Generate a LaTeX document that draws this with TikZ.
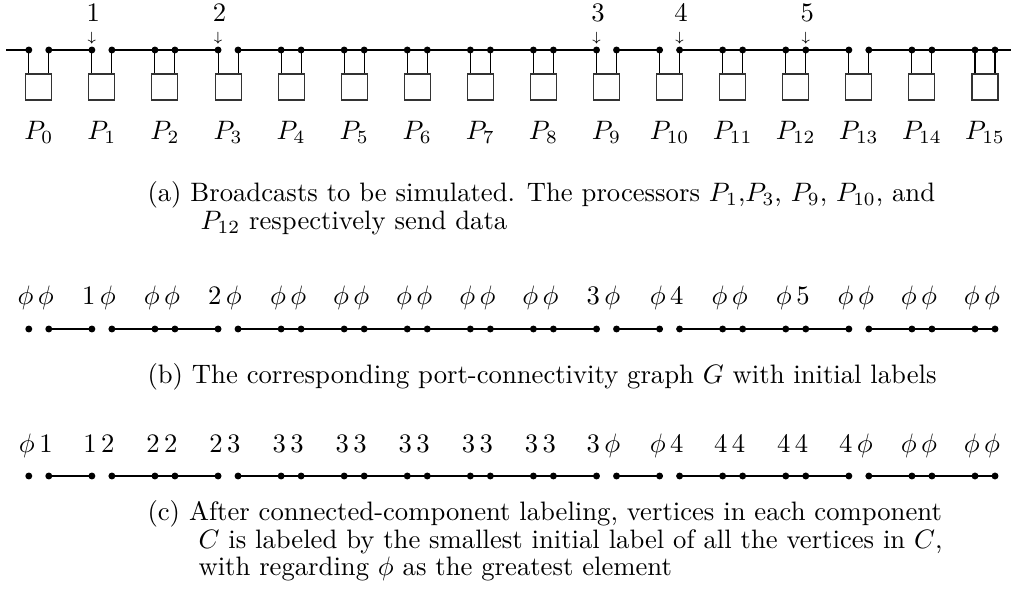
\documentclass[tikz,border=0pt]{standalone}
\usetikzlibrary{calc}
\begin{document}
\begin{tikzpicture}[x=0.375pt,y=-0.375pt,
  dot/.style={circle,fill=black,inner sep=0pt,minimum size=2.6pt},
  bus/.style={line width=0.8pt},
  wire/.style={line width=0.4pt},
  proc/.style={draw=black!80,line width=0.4pt,minimum size=9.75pt,inner sep=0pt},
  gedge/.style={line width=0.4pt},
  lbl/.style={inner sep=0pt,anchor=base},
  captext/.style={inner sep=0pt,anchor=base west}]
\useasboundingbox (0,0) rectangle (1011,595);

% processors, ports
\foreach \i in {0,...,15}{
  \pgfmathsetmacro\cx{38.8+63.08*\i}
  \node[dot] (tL\i) at (\cx-10,50) {};
  \node[dot] (tR\i) at (\cx+10,50) {};
  \node[proc] (box\i) at (\cx,87) {};
  \node[lbl] (P\i) at (\cx,140) {$P_{\i}$};
  \node[dot] (bL\i) at (\cx-10,329) {};
  \node[dot] (bR\i) at (\cx+10,329) {};
  \node[dot] (cL\i) at (\cx-10,476) {};
  \node[dot] (cR\i) at (\cx+10,476) {};
}
\coordinate (busW) at (6,50);
\coordinate (busE) at (1011,50);

% top bus
\draw[bus] (busW) -- (tL0.center);
\draw[bus] (tR15.center) -- (busE);
\foreach \i [evaluate=\i as \j using int(\i+1)] in {0,...,14}{
  \draw[bus] (tR\i.center) -- (tL\j.center);
  \draw[gedge] (bR\i.center) -- (bL\j.center);
  \draw[gedge] (cR\i.center) -- (cL\j.center);
}
\foreach \i in {2,4,5,6,7,8,11,12,14,15}{
  \draw[bus] (tL\i.center) -- (tR\i.center);
  \draw[gedge] (bL\i.center) -- (bR\i.center);
  \draw[gedge] (cL\i.center) -- (cR\i.center);
}
\foreach \i in {0,...,15}{
  \draw[wire] (tL\i.center) -- (tL\i |- box\i.north);
  \draw[wire] (tR\i.center) -- (tR\i |- box\i.north);
}

% senders
\foreach \p/\n in {tL1/1,tL3/2,tL9/3,tR10/4,tR12/5}{
  \node[inner sep=0pt] (arr\n) at ($(\p)+(0,-12)$) {\tiny$\downarrow$};
  \node[lbl] (num\n) at ($(\p)+(1.5,-28)$) {\n};
}

% labels (b)
\foreach \t [count=\k from 0] in {{$\phi\,\phi$},{$1\,\phi$},{$\phi\,\phi$},{$2\,\phi$},{$\phi\,\phi$},{$\phi\,\phi$},{$\phi\,\phi$},{$\phi\,\phi$},{$\phi\,\phi$},{$3\,\phi$},{$\phi\,4$},{$\phi\,\phi$},{$\phi\,5$},{$\phi\,\phi$},{$\phi\,\phi$},{$\phi\,\phi$}}{
  \pgfmathsetmacro\cx{38.8+63.08*\k-3}
  \node[lbl] (lb\k) at (\cx,305) {\t};
}
% labels (c)
\foreach \t [count=\k from 0] in {{$\phi\,1$},{$1\,2$},{$2\,2$},{$2\,3$},{$3\,3$},{$3\,3$},{$3\,3$},{$3\,3$},{$3\,3$},{$3\,\phi$},{$\phi\,4$},{$4\,4$},{$4\,4$},{$4\,\phi$},{$\phi\,\phi$},{$\phi\,\phi$}}{
  \pgfmathsetmacro\cx{38.8+63.08*\k-3}
  \node[lbl] (lc\k) at (\cx,452) {\t};
}

% captions
\node[captext] (capa1) at (147,202) {(a) Broadcasts to be simulated. The processors $P_1$,$P_3$, $P_9$, $P_{10}$, and};
\node[captext] (capa2) at (200,230) {$P_{12}$ respectively send data};
\node[captext] (capb) at (147,383) {(b) The corresponding port-connectivity graph $G$ with initial labels};
\node[captext] (capc1) at (147,520) {(c) After connected-component labeling, vertices in each component};
\node[captext] (capc2) at (198,548) {$C$ is labeled by the smallest initial label of all the vertices in $C$,};
\node[captext] (capc3) at (198,575) {with regarding $\phi$ as the greatest element};
\end{tikzpicture}
\end{document}
